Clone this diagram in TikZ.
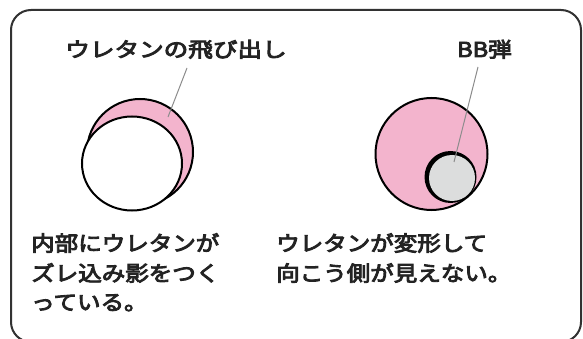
\documentclass[tikz,border=0pt]{standalone}
\usepackage{fontspec}
\newfontfamily\cjk{Noto Sans CJK JP}[FakeBold=4]
\usepackage{graphicx}
\definecolor{pinkfill}{RGB}{243,180,205}
\definecolor{ballgray}{RGB}{220,221,221}
\definecolor{framegray}{RGB}{50,50,50}
\definecolor{leadgray}{RGB}{140,140,140}
\definecolor{txt}{RGB}{35,35,35}
\tikzset{
  lbl/.style={inner sep=0pt, anchor=base, text=txt, font=\cjk\fontsize{20.5}{24}\selectfont},
  body/.style={inner sep=0pt, anchor=base west, text=txt, font=\cjk\fontsize{21}{24}\selectfont},
  outline/.style={draw=black, line width=2pt},
  leader/.style={draw=leadgray, line width=1pt},
}
\begin{document}
\begin{tikzpicture}[x=1pt,y=-1pt]
\useasboundingbox (0,0) rectangle (583,339);
\fill[white] (0,0) rectangle (583,339);
% frame
\draw[framegray, line width=2pt, rounded corners=20pt] (11,10) rectangle (581,342);
% left ball
\path[outline, fill=pinkfill] (140,152) circle[radius=53];
\path[outline, fill=white] (132,163.5) ellipse[x radius=50, y radius=47];
\coordinate (ltip) at (168,117);
% right ball
\path[outline, fill=pinkfill] (431.5,154) circle[radius=56];
\fill[black] (450.5,177) circle[radius=26];
\fill[ballgray] (452,178) circle[radius=23];
\coordinate (rtip) at (454,162);
% labels
\node[lbl] (l1) at (176,57) {\scalebox{1.2}[1]{ウレタンの飛び出し}};
\node[lbl] (l2) at (484.5,57) {\scalebox{1.15}[1]{BB弾}};
\coordinate (l1s) at (187,68);
\coordinate (l2s) at (478,67);
\draw[leader] (l1s) -- (ltip);
\draw[leader] (l2s) -- (rtip);
% bottom text
\node[body] (t1) at (31,251) {\scalebox{1.12}[1]{内部にウレタンが}};
\node[body] (t2) at (31,281) {\scalebox{1.12}[1]{ズレ込み影をつく}};
\node[body] (t3) at (31,310) {\scalebox{1.12}[1]{っている。}};
\node[body] (t4) at (276,251) {\scalebox{1.12}[1]{ウレタンが変形して}};
\node[body] (t5) at (276,281) {\scalebox{1.12}[1]{向こう側が見えない。}};
\end{tikzpicture}
\end{document}
